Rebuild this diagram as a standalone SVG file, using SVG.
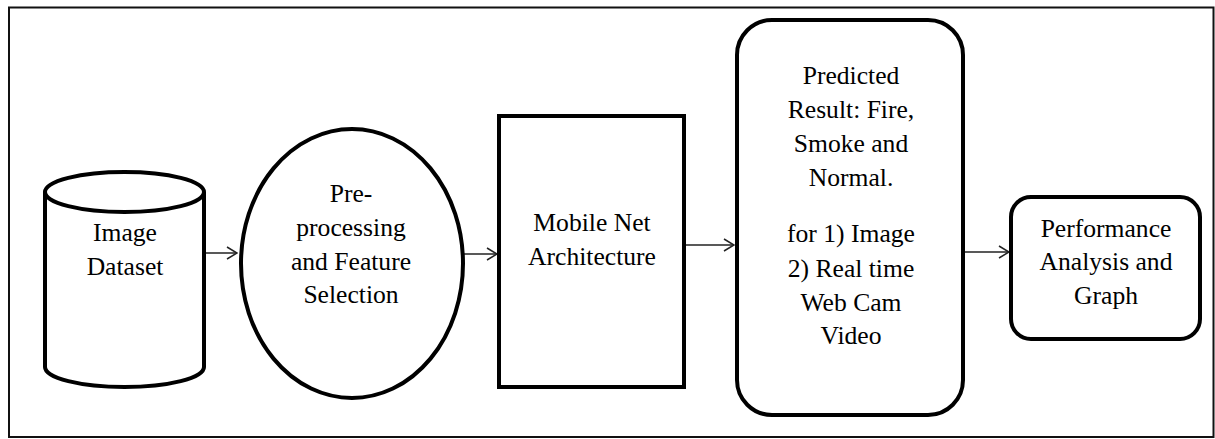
<svg xmlns="http://www.w3.org/2000/svg" width="1215" height="439" viewBox="0 0 1215 439">
<style>
.shape{fill:#fff;stroke:#000;stroke-width:4}
.lbl{font-family:'Liberation Serif','Times New Roman','DejaVu Serif',serif;font-size:25.6px;fill:#000;text-anchor:middle}
.conn{stroke:#222;stroke-width:1.5;fill:none}
</style>
<defs>
<marker id="arr" viewBox="0 0 12 14" refX="11" refY="7" markerWidth="12" markerHeight="14" markerUnits="userSpaceOnUse" orient="auto">
<path d="M1,1 L11,7 L1,13" fill="none" stroke="#222" stroke-width="1.5"/>
</marker>
</defs>
<rect x="9" y="7.5" width="1204.5" height="429.5" fill="#fff" stroke="#111" stroke-width="2"/>
<g id="connectors">
<line class="conn" x1="205" y1="253" x2="237" y2="253" marker-end="url(#arr)"/>
<line class="conn" x1="463" y1="254" x2="497" y2="254" marker-end="url(#arr)"/>
<line class="conn" x1="684" y1="245" x2="734" y2="245" marker-end="url(#arr)"/>
<line class="conn" x1="963" y1="252" x2="1009" y2="252" marker-end="url(#arr)"/>
</g>
<g id="image-dataset">
<path class="shape" d="M45,192 L45,367 A79.5,20 0 0 0 204,367 L204,192 A79.5,20 0 0 0 45,192 Z"/>
<path d="M45,192 A79.5,20 0 0 0 204,192" fill="none" stroke="#000" stroke-width="4"/>
<text class="lbl" x="125" y="241">Image</text>
<text class="lbl" x="125" y="275">Dataset</text>
</g>
<g id="preprocessing">
<ellipse class="shape" cx="352" cy="263.5" rx="111" ry="134.5"/>
<text class="lbl" x="351" y="202">Pre-</text>
<text class="lbl" x="351" y="236">processing</text>
<text class="lbl" x="351" y="269.5">and Feature</text>
<text class="lbl" x="351" y="303">Selection</text>
</g>
<g id="mobilenet">
<rect class="shape" x="499" y="116" width="185" height="271"/>
<text class="lbl" x="592" y="231">Mobile Net</text>
<text class="lbl" x="592" y="265">Architecture</text>
</g>
<g id="predicted">
<rect class="shape" x="737" y="20" width="226" height="395" rx="35" ry="35"/>
<text class="lbl" x="851" y="84">Predicted</text>
<text class="lbl" x="851" y="118">Result: Fire,</text>
<text class="lbl" x="851" y="152">Smoke and</text>
<text class="lbl" x="851" y="186">Normal.</text>
<text class="lbl" x="851" y="242">for 1) Image</text>
<text class="lbl" x="851" y="277">2) Real time</text>
<text class="lbl" x="851" y="311">Web Cam</text>
<text class="lbl" x="851" y="344">Video</text>
</g>
<g id="performance">
<rect class="shape" x="1011" y="197" width="189" height="142" rx="20" ry="20"/>
<text class="lbl" x="1106" y="237">Performance</text>
<text class="lbl" x="1106" y="270">Analysis and</text>
<text class="lbl" x="1106" y="304">Graph</text>
</g>
</svg>
